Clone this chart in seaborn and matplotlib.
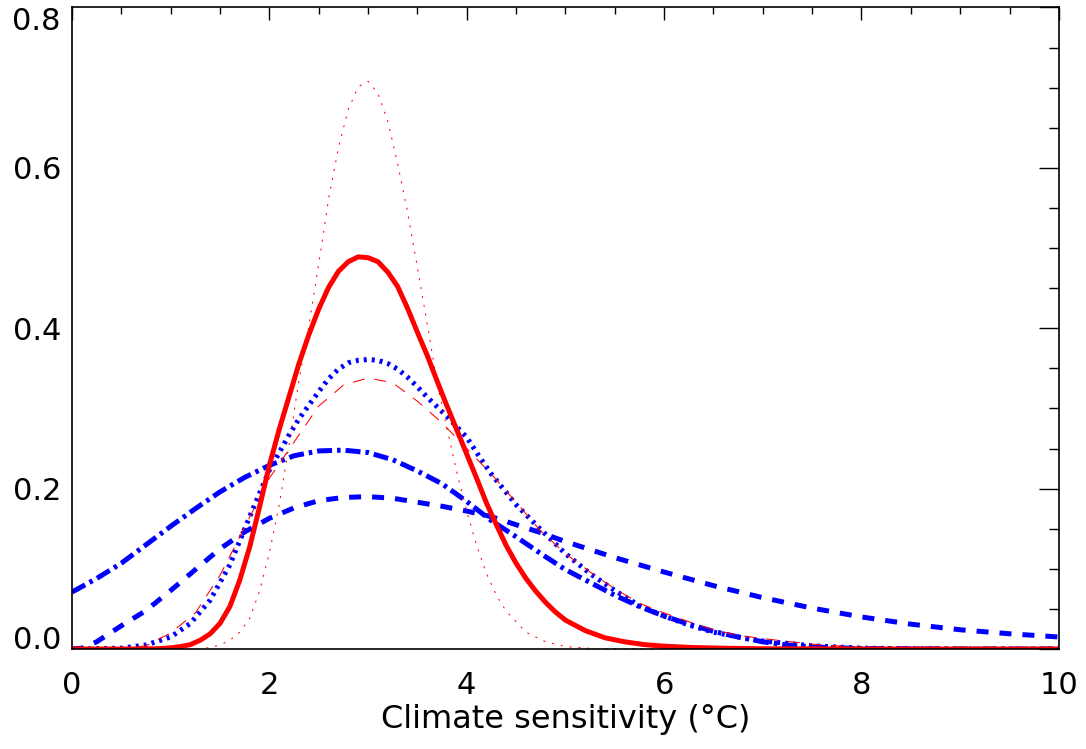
import matplotlib
matplotlib.use("Agg")
import matplotlib.pyplot as plt
from matplotlib.ticker import MultipleLocator
import seaborn as sns

# --- values ---
# red, thick solid
x_red_solid = [0, 0.6, 0.8, 0.9, 1.0, 1.1, 1.2, 1.3, 1.4, 1.5, 1.6, 1.7, 1.8, 1.9, 2.0, 2.1,
               2.2, 2.3, 2.4, 2.5, 2.6, 2.7, 2.8, 2.9, 3.0, 3.1, 3.2, 3.3, 3.4, 3.5, 3.6, 3.7,
               3.8, 3.9, 4.0, 4.1, 4.2, 4.3, 4.4, 4.5, 4.6, 4.7, 4.8, 4.9, 5.0, 5.2, 5.4, 5.6,
               5.8, 6.0, 6.3, 6.6, 7.0, 8.0, 10.0]
y_red_solid = [0, 0, 0.0002, 0.0005, 0.0015, 0.003, 0.0055, 0.011, 0.019, 0.032, 0.053,
               0.086, 0.127, 0.177, 0.229, 0.274, 0.315, 0.356, 0.392, 0.424, 0.451, 0.471,
               0.483, 0.489, 0.488, 0.483, 0.470, 0.452, 0.425, 0.395, 0.366, 0.334, 0.303,
               0.273, 0.243, 0.213, 0.182, 0.155, 0.129, 0.107, 0.088, 0.072, 0.058, 0.046,
               0.036, 0.023, 0.014, 0.009, 0.0055, 0.0035, 0.0018, 0.001, 0.0003, 0, 0]

# red, thin dotted (tall narrow peak)
x_red_dot = [0, 1.3, 1.4, 1.5, 1.6, 1.7, 1.8, 1.9, 2.0, 2.1, 2.2, 2.3, 2.4, 2.5, 2.6, 2.7,
             2.8, 2.9, 3.0, 3.1, 3.2, 3.3, 3.4, 3.5, 3.6, 3.7, 3.8, 3.9, 4.0, 4.1, 4.2, 4.3,
             4.4, 4.6, 4.8, 5.0, 5.3, 10.0]
y_red_dot = [0, 0, 0.002, 0.005, 0.011, 0.021, 0.038, 0.072, 0.120, 0.180, 0.255, 0.335,
             0.403, 0.480, 0.561, 0.625, 0.673, 0.701, 0.708, 0.693, 0.658, 0.605, 0.545,
             0.476, 0.405, 0.332, 0.275, 0.220, 0.172, 0.129, 0.094, 0.067, 0.047, 0.021,
             0.009, 0.003, 0.0005, 0]

# red, thin dashed
x_red_dash = [0, 0.5, 0.75, 1.0, 1.25, 1.5, 1.75, 2.0, 2.25, 2.5, 2.75, 3.0, 3.25, 3.5, 3.75,
              4.0, 4.25, 4.5, 4.75, 5.0, 5.25, 5.5, 5.75, 6.0, 6.25, 6.5, 6.75, 7.0, 7.5, 8.0,
              8.5, 9.0, 10.0]
y_red_dash = [0, 0.0005, 0.004, 0.020, 0.045, 0.092, 0.152, 0.213, 0.258, 0.303, 0.329,
              0.338, 0.332, 0.309, 0.282, 0.250, 0.218, 0.183, 0.147, 0.119, 0.096, 0.075,
              0.057, 0.045, 0.034, 0.024, 0.017, 0.013, 0.006, 0.002, 0.0005, 0, 0]

# blue, thick dotted
x_blue_dot = [0, 0.5, 0.75, 1.0, 1.2, 1.4, 1.6, 1.8, 2.0, 2.1, 2.2, 2.3, 2.4, 2.5, 2.6, 2.7,
              2.8, 2.9, 3.0, 3.1, 3.2, 3.3, 3.4, 3.5, 3.6, 3.7, 3.8, 3.9, 4.0, 4.1, 4.25, 4.5,
              4.75, 5.0, 5.25, 5.5, 5.75, 6.0, 6.25, 6.5, 6.75, 7.0, 7.5, 8.0, 9.0, 10.0]
y_blue_dot = [0, 0.001, 0.005, 0.015, 0.032, 0.061, 0.105, 0.165, 0.223, 0.245, 0.267,
              0.287, 0.304, 0.321, 0.337, 0.349, 0.357, 0.360, 0.361, 0.360, 0.356, 0.349,
              0.339, 0.327, 0.314, 0.302, 0.290, 0.277, 0.264, 0.245, 0.218, 0.180, 0.149,
              0.119, 0.094, 0.073, 0.054, 0.041, 0.030, 0.021, 0.015, 0.010, 0.004, 0.001,
              0, 0]

# blue, thick dash-dot
x_blue_dashdot = [0, 0.25, 0.5, 0.75, 1.0, 1.25, 1.5, 1.75, 2.0, 2.25, 2.5, 2.75, 3.0, 3.25,
                  3.5, 3.75, 4.0, 4.25, 4.5, 4.75, 5.0, 5.25, 5.5, 5.75, 6.0, 6.25, 6.5,
                  6.75, 7.0, 7.25, 7.5, 8.0, 9.0, 10.0]
y_blue_dashdot = [0.071, 0.088, 0.107, 0.130, 0.153, 0.175, 0.196, 0.214, 0.229, 0.241,
                  0.247, 0.248, 0.245, 0.236, 0.222, 0.206, 0.184, 0.160, 0.140, 0.119, 0.099,
                  0.083, 0.067, 0.053, 0.041, 0.031, 0.022, 0.015, 0.009, 0.005, 0.0025,
                  0.0005, 0, 0]

# blue, thick dashed (long tail)
x_blue_dash = [0, 0.1, 0.25, 0.5, 0.75, 1.0, 1.25, 1.5, 1.75, 2.0, 2.25, 2.5, 2.75, 3.0,
               3.25, 3.5, 3.75, 4.0, 4.25, 4.5, 4.75, 5.0, 5.5, 6.0, 6.5, 7.0, 7.5, 8.0, 8.5,
               9.0, 9.5, 10.0]
y_blue_dash = [0, 0.001, 0.009, 0.029, 0.048, 0.073, 0.099, 0.125, 0.146, 0.163, 0.176,
               0.185, 0.189, 0.190, 0.188, 0.183, 0.178, 0.172, 0.165, 0.155, 0.145, 0.134,
               0.114, 0.096, 0.079, 0.064, 0.051, 0.040, 0.031, 0.024, 0.019, 0.015]

x_ticks = [0, 2, 4, 6, 8, 10]
y_ticks = [0.0, 0.2, 0.4, 0.6, 0.8]


def main():
    sns.set_theme(style="white")
    plt.rcParams['font.family'] = ['DejaVu Sans']

    fig = plt.figure(figsize=(10.86, 7.49), dpi=100)
    ax = fig.add_axes([0.0663, 0.1335, 0.9087, 0.8565])

    blue = '#0000ff'
    red = '#ff0000'
    thick = 3.6
    thin = 0.75
    smooth = dict(errorbar=None, solid_joinstyle='round', dash_joinstyle='round')

    # blue curves underneath, red on top
    sns.lineplot(x=x_blue_dash, y=y_blue_dash, ax=ax, color=blue, lw=thick,
                 linestyle=(0, (2.4, 2.2)), **smooth)
    sns.lineplot(x=x_blue_dashdot, y=y_blue_dashdot, ax=ax, color=blue, lw=thick,
                 linestyle=(0, (3.0, 1.0, 0.7, 1.0)), **smooth)
    sns.lineplot(x=x_blue_dot, y=y_blue_dot, ax=ax, color=blue, lw=thick,
                 linestyle=(0, (0.6, 1.0)), **smooth)
    sns.lineplot(x=x_red_solid, y=y_red_solid, ax=ax, color=red, lw=thick,
                 linestyle='-', **smooth)
    sns.lineplot(x=x_red_dash, y=y_red_dash, ax=ax, color=red, lw=thin,
                 linestyle=(0, (11.5, 9.6)), **smooth)
    sns.lineplot(x=x_red_dot, y=y_red_dot, ax=ax, color=red, lw=thin,
                 linestyle=(0, (1.9, 6.7)), **smooth)

    ax.set_xlim(0, 10)
    ax.set_ylim(0, 0.8)
    ax.set_xticks(x_ticks)
    ax.set_xticklabels([str(t) for t in x_ticks])
    ax.set_yticks(y_ticks)
    ax.set_yticklabels([f"{t:.1f}" for t in y_ticks])
    ax.xaxis.set_minor_locator(MultipleLocator(0.5))
    ax.yaxis.set_minor_locator(MultipleLocator(0.05))

    ax.tick_params(which='both', direction='in', top=True, right=True,
                   color='black', width=1.0, labelsize=22, labelcolor='black')
    ax.tick_params(axis='x', which='major', length=9.5, pad=16)
    ax.tick_params(axis='x', which='minor', length=4.8)
    ax.tick_params(axis='y', which='major', length=14.5, pad=8)
    ax.tick_params(axis='y', which='minor', length=7.2)

    # IDL style: end labels pulled inside the axis range
    ylabels = ax.get_yticklabels()
    ylabels[0].set_va('baseline')
    ylabels[-1].set_va('top')

    for s in ax.spines.values():
        s.set_color('black')
        s.set_linewidth(1.2)

    ax.set_xlabel("Climate sensitivity (°C)", fontsize=23, color='black', labelpad=3)
    ax.set_ylabel("")

    fig.savefig("out.png", dpi=100)


if __name__ == "__main__":
    main()
